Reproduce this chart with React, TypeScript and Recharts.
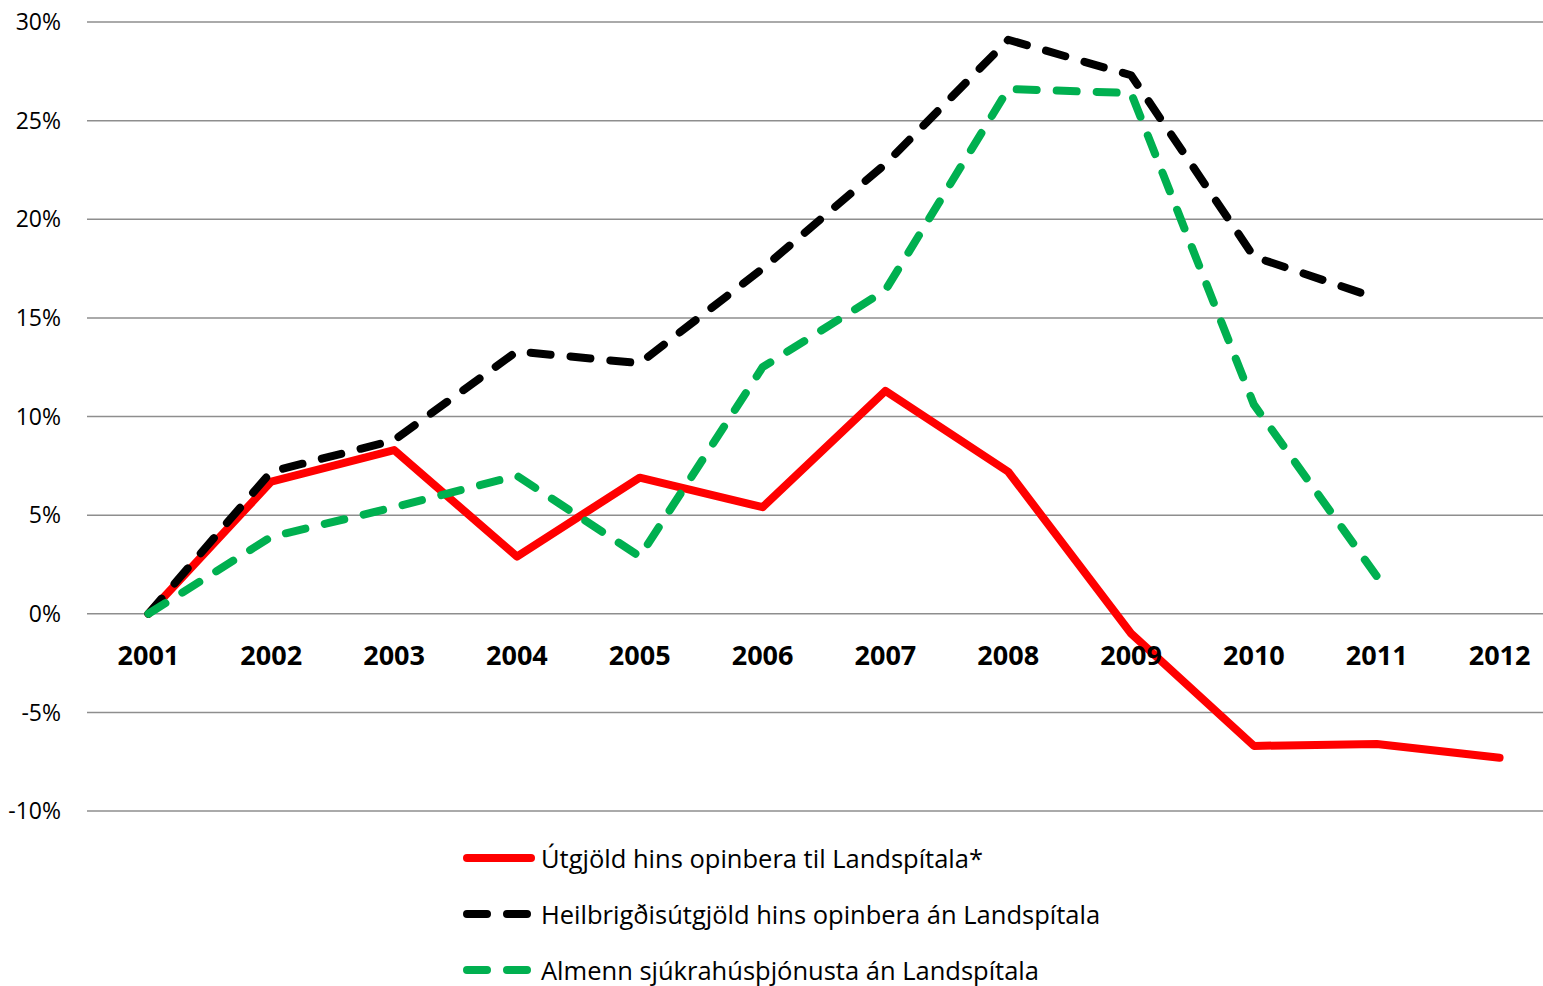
import React from "react";
import {
  LineChart,
  Line,
  XAxis,
  YAxis,
  CartesianGrid,
  Legend,
} from "recharts";

const years = [
  "2001", "2002", "2003", "2004", "2005", "2006",
  "2007", "2008", "2009", "2010", "2011", "2012",
];

const landspitali = [0, 6.7, 8.3, 2.9, 6.9, 5.4, 11.3, 7.2, -1.0, -6.7, -6.6, -7.3];
const heilbrigdis = [0, 7.2, 8.8, 13.3, 12.7, 17.5, 22.8, 29.1, 27.3, 18.1, 16.0, null];
const sjukrahus = [0, 3.9, 5.4, 7.0, 2.9, 12.5, 16.4, 26.6, 26.4, 10.6, 1.9, null];

const yTicks = [-10, -5, 0, 5, 10, 15, 20, 25, 30];

const SERIES = [
  { key: "landspitali", name: "Útgjöld hins opinbera til Landspítala*", color: "#FF0000", dash: undefined },
  { key: "heilbrigdis", name: "Heilbrigðisútgjöld hins opinbera án Landspítala", color: "#000000", dash: "20 20" },
  { key: "sjukrahus", name: "Almenn sjúkrahúsþjónusta án Landspítala", color: "#00B050", dash: "20 20" },
];

const data = years.map((year, i) => ({
  year,
  landspitali: landspitali[i],
  heilbrigdis: heilbrigdis[i],
  sjukrahus: sjukrahus[i],
}));

const FONT = "'Open Sans', sans-serif";
const CHART_W = 1561;
const CHART_H = 986;
const Y_AXIS_W = 87;
const TOP = 22;
const BOTTOM = 145;
const X_AXIS_H = 30;
const Y_MIN = -10;
const Y_MAX = 30;
const PLOT_H = CHART_H - TOP - BOTTOM - X_AXIS_H;
// years are drawn as bands, so half a band of padding on each side
const HALF_BAND = (CHART_W - Y_AXIS_W) / years.length / 2;
// year labels sit under the 0% line instead of the bottom of the plot
const ZERO_Y = TOP + (PLOT_H * Y_MAX) / (Y_MAX - Y_MIN);

const YearTick = (props: any) => {
  const { x, payload } = props;
  return (
    <text
      x={x}
      y={ZERO_Y + 51}
      textAnchor="middle"
      fontFamily={FONT}
      fontWeight={700}
      fontSize={27}
      fill="#000"
    >
      {payload.value}
    </text>
  );
};

const LegendContent = () => (
  <div style={{ fontFamily: FONT, fontSize: 25.5, color: "#000" }}>
    {SERIES.map((s) => (
      <div key={s.key} style={{ display: "flex", alignItems: "center", height: 56 }}>
        <svg width={78} height={12}>
          <line
            x1={4}
            y1={6}
            x2={68}
            y2={6}
            stroke={s.color}
            strokeWidth={8}
            strokeLinecap="round"
            strokeDasharray={s.dash}
          />
        </svg>
        <span style={{ whiteSpace: "nowrap" }}>{s.name}</span>
      </div>
    ))}
  </div>
);

const App = () => {
  return (
    <div
      style={{
        position: "absolute",
        top: 0,
        left: 0,
        width: 1543,
        height: 986,
        overflow: "hidden",
        background: "#fff",
      }}
    >
      <LineChart
        width={CHART_W}
        height={CHART_H}
        data={data}
        margin={{ top: TOP, right: 0, bottom: BOTTOM, left: 0 }}
      >
        <CartesianGrid vertical={false} stroke="#8e8e8e" strokeWidth={1.5} />
        <XAxis
          dataKey="year"
          height={X_AXIS_H}
          axisLine={false}
          tickLine={false}
          interval={0}
          padding={{ left: HALF_BAND, right: HALF_BAND }}
          tick={YearTick}
        />
        <YAxis
          width={Y_AXIS_W}
          domain={[Y_MIN, Y_MAX]}
          ticks={yTicks}
          axisLine={false}
          tickLine={false}
          tickMargin={20}
          tickFormatter={(v) => `${v}%`}
          tick={{ fontFamily: FONT, fontSize: 23, fill: "#000" }}
        />
        <Legend
          layout="vertical"
          verticalAlign="middle"
          align="center"
          content={<LegendContent />}
          wrapperStyle={{ top: 830, left: 463, width: 760 }}
        />
        {SERIES.map((s) => (
          <Line
            key={s.key}
            type="linear"
            dataKey={s.key}
            name={s.name}
            stroke={s.color}
            strokeWidth={8}
            strokeDasharray={s.dash}
            strokeLinecap="round"
            strokeLinejoin="round"
            dot={false}
            activeDot={false}
            isAnimationActive={false}
          />
        ))}
      </LineChart>
    </div>
  );
};

export default App;
